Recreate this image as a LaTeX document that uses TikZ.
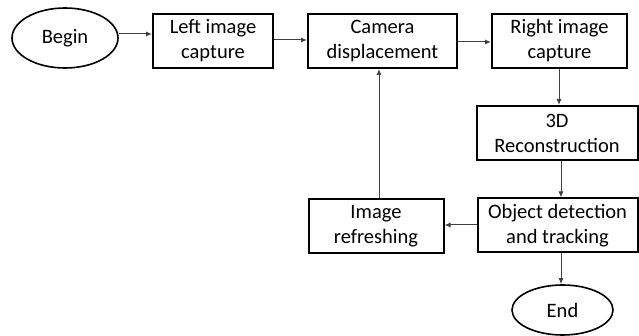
\documentclass[tikz,border=0pt]{standalone}
\usepackage{fontspec}
\setmainfont{Carlito}
\usetikzlibrary{shapes.geometric,arrows.meta}
\begin{document}
\begin{tikzpicture}[x=1pt,y=-1pt,
  stepbox/.style={draw, line width=2pt, minimum height=54pt, align=center, inner sep=0pt, font=\fontsize{20.5}{25}\selectfont},
  term/.style={draw, ellipse, line width=1.6pt, inner sep=0pt, font=\fontsize{20.5}{25}\selectfont},
  conn/.style={line width=1pt, draw=black!75, -{Latex[length=6pt,width=5pt]}}]
\useasboundingbox (0,0) rectangle (639,336);
\node[term, minimum width=106pt, minimum height=60pt] (begin) at (65,38) {Begin};
\node[stepbox, minimum width=120pt] (left) at (213,41) {Left image\\capture};
\node[stepbox, minimum width=149pt] (cam) at (382.5,41) {Camera\\displacement};
\node[stepbox, minimum width=135pt] (right) at (559.5,41) {Right image\\capture};
\node[stepbox, minimum width=161pt] (recon) at (557,133) {3D\\Reconstruction};
\node[stepbox, minimum width=160pt] (obj) at (557.5,225.5) {Object detection\\and tracking};
\node[stepbox, minimum width=135pt] (refresh) at (376,226.5) {Image\\refreshing};
\node[term, minimum width=101pt, minimum height=50pt] (end) at (562.5,310) {End};
\draw[conn] (begin.east |- 0,34) -- (left.west |- 0,34);
\draw[conn] (left.east |- 0,40) -- (cam.west |- 0,40);
\draw[conn] (cam.east |- 0,42) -- (right.west |- 0,42);
\draw[conn] (right.south -| 559,0) -- (recon.north -| 559,0);
\draw[conn] (recon.south -| 561,0) -- (obj.north -| 561,0);
\draw[conn] (obj.west |- 0,225) -- (refresh.east |- 0,225);
\draw[conn] (refresh.north -| 379,0) -- (cam.south -| 379,0);
\draw[conn] (obj.south -| 561,0) -- (end.north -| 561,0);
\end{tikzpicture}
\end{document}
